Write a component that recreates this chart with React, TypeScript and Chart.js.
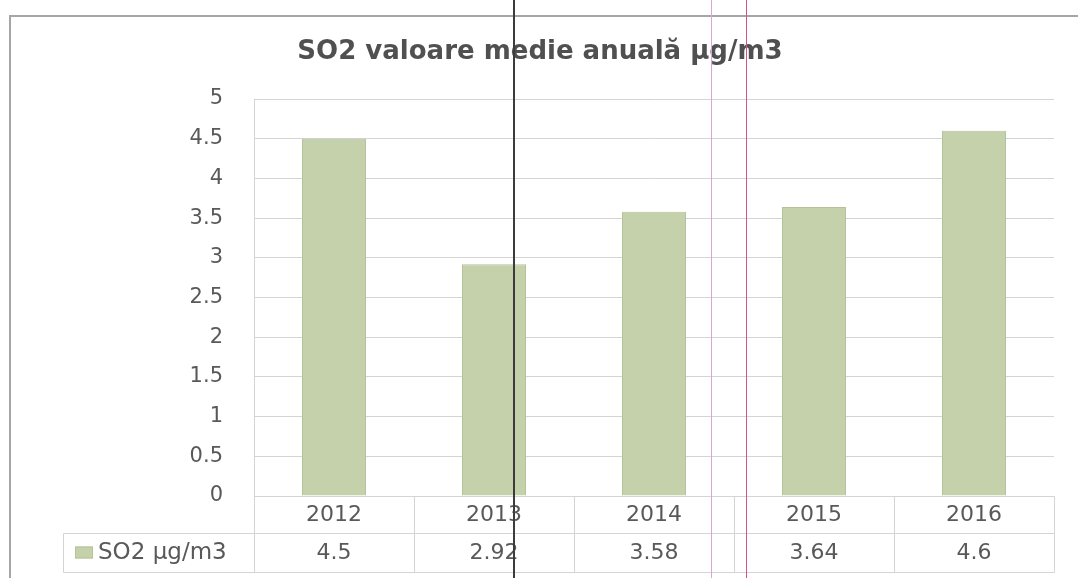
import React, { useEffect, useRef } from "react";
import { Chart, registerables } from "chart.js";

Chart.register(...registerables);

const years = ["2012", "2013", "2014", "2015", "2016"];
const so2Values = [4.5, 2.92, 3.58, 3.64, 4.6];
const seriesLabel = "SO2 µg/m3";
const titleText = "SO2 valoare medie anuală µg/m3";
const yMin = 0;
const yMax = 5;
const yStep = 0.5;

const FONT = "'DejaVu Sans', 'Open Sans', sans-serif";
const TEXT = "#595959";
const LINE = "#d4d4d4";
const BAR = "#c4d1aa";
const BAR_BORDER = "#b4c398";

const framePlugin = {
  id: "frame",
  beforeDraw(chart: any) {
    const { ctx, width, height } = chart;
    ctx.save();
    ctx.fillStyle = "#ffffff";
    ctx.fillRect(0, 0, width, height);
    ctx.strokeStyle = "#a6a6a6";
    ctx.lineWidth = 2;
    ctx.beginPath();
    ctx.moveTo(10, height);
    ctx.lineTo(10, 16);
    ctx.lineTo(width, 16);
    ctx.stroke();
    // title
    ctx.fillStyle = "#505050";
    ctx.font = `bold 26px ${FONT}`;
    ctx.textAlign = "center";
    ctx.textBaseline = "middle";
    ctx.fillText(titleText, 540, 52);
    ctx.restore();
  },
};

const tablePlugin = {
  id: "dataTable",
  afterDraw(chart: any) {
    const { ctx, chartArea } = chart;
    const xScale = chart.scales.x;
    const left = chartArea.left;
    const right = chartArea.right;
    const top = chartArea.bottom;
    const r1 = top + 37;
    const r2 = top + 76;
    const legendLeft = 63;
    const n = years.length;
    const colW = (right - left) / n;

    ctx.save();
    ctx.strokeStyle = LINE;
    ctx.lineWidth = 1;
    const line = (x1: number, y1: number, x2: number, y2: number) => {
      ctx.beginPath();
      ctx.moveTo(Math.round(x1) + 0.5, Math.round(y1) + 0.5);
      ctx.lineTo(Math.round(x2) + 0.5, Math.round(y2) + 0.5);
      ctx.stroke();
    };
    line(left, top, right, top);
    line(legendLeft, r1, right, r1);
    line(legendLeft, r2, right, r2);
    line(legendLeft, r1, legendLeft, r2);
    for (let k = 0; k <= n; k++) {
      const xb = left + k * colW;
      line(xb, top, xb, r2);
    }

    ctx.fillStyle = TEXT;
    ctx.font = `22px ${FONT}`;
    ctx.textAlign = "center";
    ctx.textBaseline = "middle";
    years.forEach((y, i) => {
      const cx = xScale.getPixelForValue(i);
      ctx.fillText(y, cx, (top + r1) / 2 + 1);
      ctx.fillText(String(so2Values[i]), cx, (r1 + r2) / 2 + 1);
    });

    // legend key
    ctx.fillStyle = BAR;
    ctx.strokeStyle = BAR_BORDER;
    ctx.fillRect(75, (r1 + r2) / 2 - 6, 18, 12);
    ctx.strokeRect(75.5, (r1 + r2) / 2 - 5.5, 17, 11);
    ctx.fillStyle = TEXT;
    ctx.textAlign = "left";
    ctx.font = `23px ${FONT}`;
    ctx.fillText(seriesLabel, 98, (r1 + r2) / 2 + 1);
    ctx.restore();
  },
};

const scanLinesPlugin = {
  id: "scanLines",
  afterDraw(chart: any) {
    const { ctx, height } = chart;
    ctx.save();
    ctx.lineWidth = 2;
    ctx.strokeStyle = "#3c3c3c";
    ctx.beginPath();
    ctx.moveTo(514, 0);
    ctx.lineTo(514, height);
    ctx.stroke();
    ctx.lineWidth = 1;
    ctx.strokeStyle = "#d9a6d6";
    ctx.beginPath();
    ctx.moveTo(711.5, 0);
    ctx.lineTo(711.5, height);
    ctx.stroke();
    ctx.strokeStyle = "#d94f8a";
    ctx.beginPath();
    ctx.moveTo(746.5, 0);
    ctx.lineTo(746.5, height);
    ctx.stroke();
    ctx.restore();
  },
};

export default function App() {
  const canvasRef = useRef<HTMLCanvasElement | null>(null);

  useEffect(() => {
    const canvas = canvasRef.current;
    if (!canvas) return;
    const chart = new Chart(canvas, {
      type: "bar",
      data: {
        labels: years,
        datasets: [
          {
            label: seriesLabel,
            data: so2Values,
            backgroundColor: BAR,
            borderColor: BAR_BORDER,
            borderWidth: 1,
            barPercentage: 0.4,
            categoryPercentage: 1.0,
          },
        ],
      },
      options: {
        responsive: false,
        animation: false,
        layout: { padding: { left: 0, right: 24, top: 99, bottom: 82 } },
        plugins: {
          legend: { display: false },
          tooltip: { enabled: false },
          title: { display: false },
        },
        scales: {
          x: { display: false },
          y: {
            min: yMin,
            max: yMax,
            ticks: {
              stepSize: yStep,
              color: TEXT,
              font: { family: FONT, size: 21 },
              padding: 31,
              callback: (v: any) => String(Math.round(Number(v) * 10) / 10),
            },
            grid: { color: LINE, drawTicks: false },
            border: { display: true, color: LINE },
            afterFit(scale: any) {
              scale.width = 254;
            },
          },
        },
      },
      plugins: [framePlugin, tablePlugin, scanLinesPlugin],
    });
    return () => chart.destroy();
  }, []);

  return (
    <div style={{ position: "fixed", left: 0, top: 0, width: 1078, height: 578, background: "#fff" }}>
      <canvas ref={canvasRef} width={1078} height={578} />
    </div>
  );
}
